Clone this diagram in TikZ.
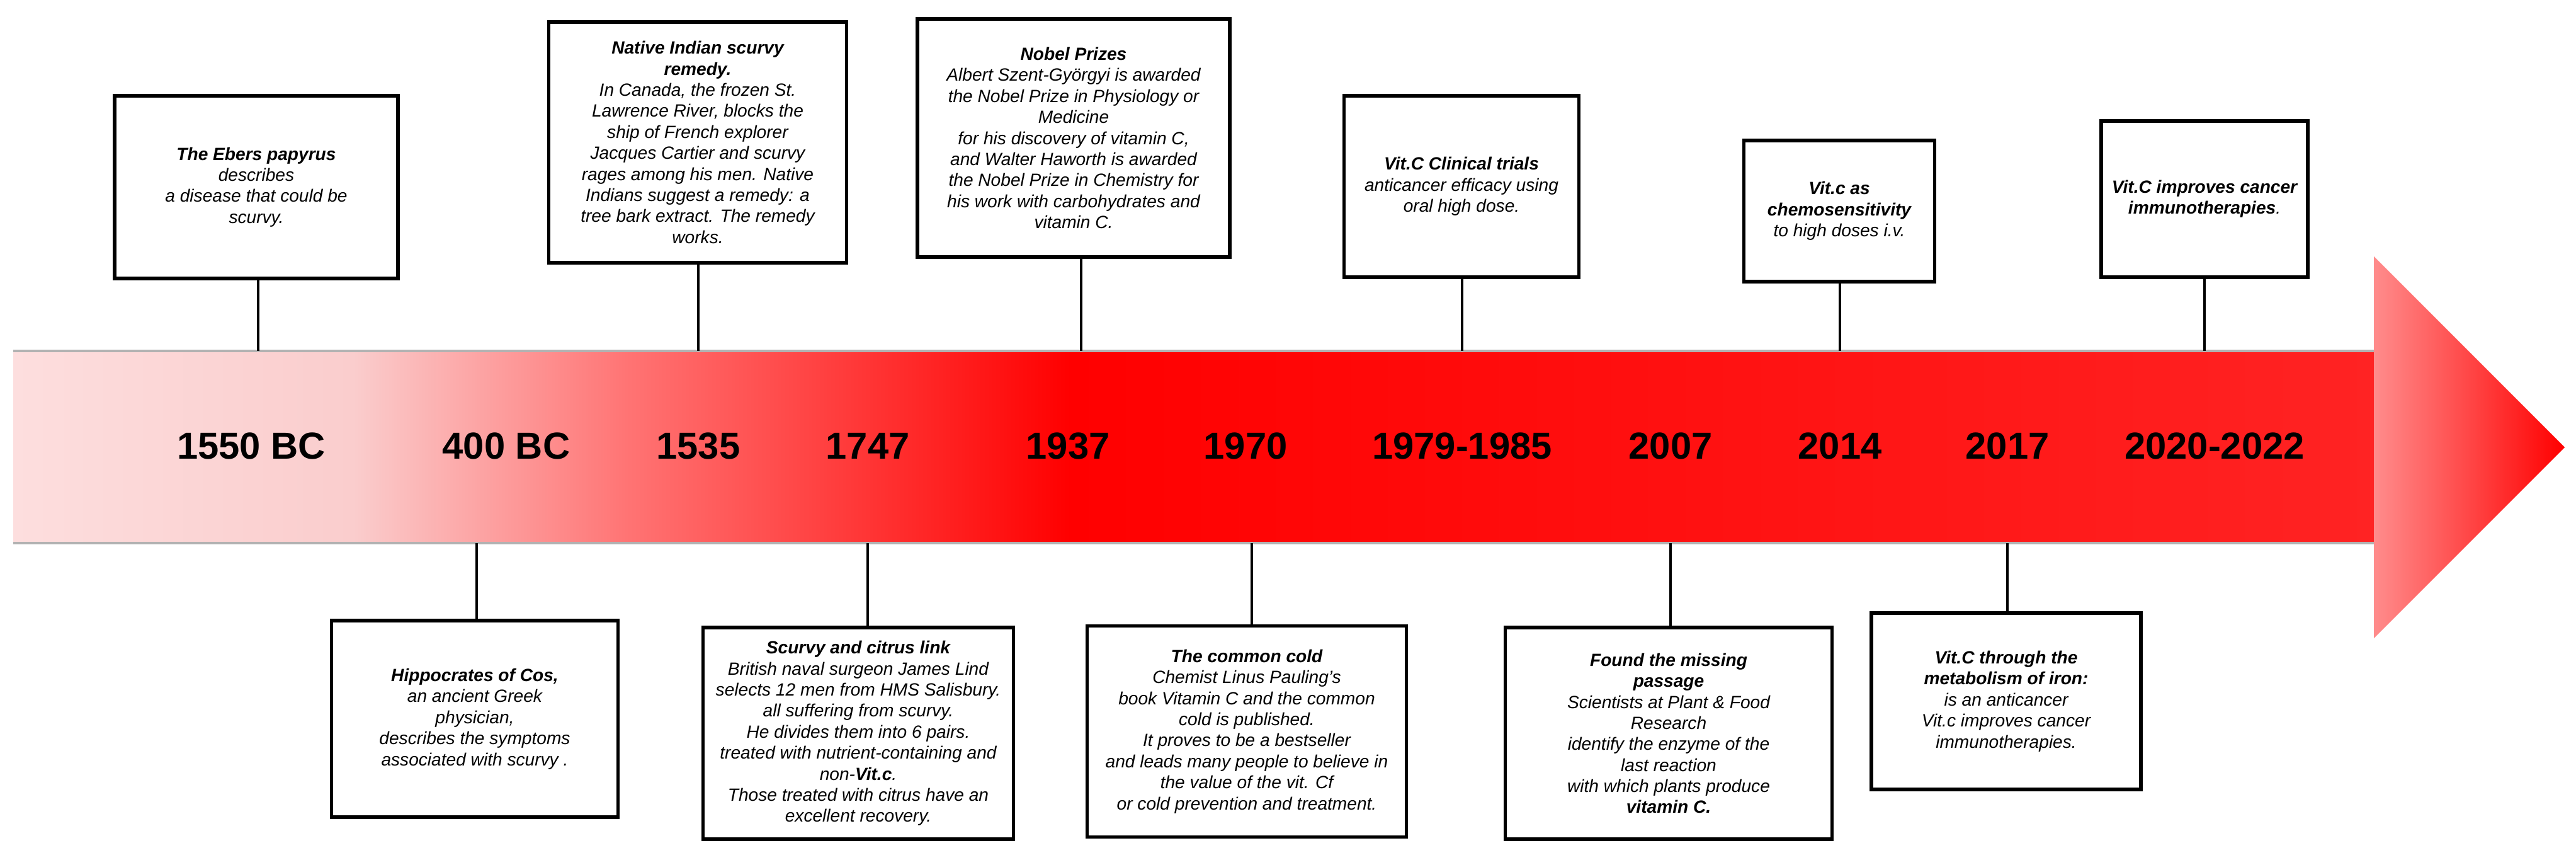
\documentclass[tikz,border=0pt]{standalone}
\usepackage{fontspec}
\setmainfont{Liberation Sans}
\definecolor{pinkA}{RGB}{253,222,222}
\definecolor{pinkB}{RGB}{250,205,205}
\definecolor{pinkC}{RGB}{255,115,115}
\definecolor{redA}{RGB}{255,0,0}
\definecolor{redB}{RGB}{255,35,35}
\definecolor{headL}{RGB}{255,140,140}
\tikzset{
  evbox/.style={draw=black, line width=1.5pt, fill=white, align=center,
    font=\fontsize{8}{9.5}\selectfont\itshape, inner sep=0pt},
  yearlbl/.style={font=\fontsize{17}{20}\selectfont\bfseries, inner sep=0pt},
  stemline/.style={line width=1pt, black}
}
\begin{document}
\begin{tikzpicture}
\useasboundingbox (0,0) rectangle (40.91,-13.64);
\fill[white] (0,0) rectangle (40.91,-13.64);
% shaft
\shade[left color=pinkA, right color=pinkB] (0.21,-5.57) rectangle (5.6,-8.62);
\shade[left color=pinkB, right color=pinkC] (5.6,-5.57) rectangle (10.0,-8.62);
\shade[left color=pinkC, right color=redA] (10.0,-5.57) rectangle (17.0,-8.62);
\shade[left color=redA, right color=redB] (17.0,-5.57) rectangle (37.72,-8.62);
\draw[gray!60, line width=1.2pt] (0.21,-5.57) -- (37.72,-5.57);
\draw[gray!60, line width=1.2pt] (0.21,-8.62) -- (37.72,-8.62);
% head
\shade[left color=headL, right color=redA] (37.70,-4.07) -- (40.73,-7.10) -- (37.70,-10.13) -- cycle;
% shaft connection points
\coordinate (t1) at (4.10,-5.57);
\coordinate (t2) at (11.09,-5.57);
\coordinate (t3) at (17.17,-5.57);
\coordinate (t4) at (23.22,-5.57);
\coordinate (t5) at (29.22,-5.57);
\coordinate (t6) at (35.01,-5.57);
\coordinate (b1) at (7.57,-8.62);
\coordinate (b2) at (13.78,-8.62);
\coordinate (b3) at (19.88,-8.62);
\coordinate (b4) at (26.53,-8.62);
\coordinate (b5) at (31.88,-8.62);
% years
\node[yearlbl] (y1) at (3.99,-7.08) {1550 BC};
\node[yearlbl] (y2) at (8.04,-7.08) {400 BC};
\node[yearlbl] (y3) at (11.09,-7.08) {1535};
\node[yearlbl] (y4) at (13.78,-7.08) {1747};
\node[yearlbl] (y5) at (16.96,-7.08) {1937};
\node[yearlbl] (y6) at (19.78,-7.08) {1970};
\node[yearlbl] (y7) at (23.22,-7.08) {1979-1985};
\node[yearlbl] (y8) at (26.53,-7.08) {2007};
\node[yearlbl] (y9) at (29.22,-7.08) {2014};
\node[yearlbl] (y10) at (31.88,-7.08) {2017};
\node[yearlbl] (y11) at (35.17,-7.08) {2020-2022};
% top boxes
\node[evbox, minimum width=4.50cm, minimum height=2.90cm] (ebers) at (4.07,-2.97)
 {\textbf{The Ebers papyrus}\\describes\\a disease that could be\\scurvy.};
\node[evbox, minimum width=4.73cm, minimum height=3.82cm] (native) at (11.08,-2.26)
 {\textbf{Native Indian scurvy}\\\textbf{remedy.}\\In Canada, the frozen St.\\Lawrence River, blocks the\\ship of French explorer\\Jacques Cartier and scurvy\\rages among his men. Native\\Indians suggest a remedy: a\\tree bark extract. The remedy\\works.};
\node[evbox, minimum width=4.96cm, minimum height=3.78cm] (nobel) at (17.05,-2.19)
 {\textbf{Nobel Prizes}\\Albert Szent-Györgyi is awarded\\the Nobel Prize in Physiology or\\Medicine\\for his discovery of vitamin C,\\and Walter Haworth is awarded\\the Nobel Prize in Chemistry for\\his work with carbohydrates and\\vitamin C.};
\node[evbox, minimum width=3.73cm, minimum height=2.88cm] (clinical) at (23.21,-2.96)
 {\textbf{Vit.C Clinical trials}\\anticancer efficacy using\\oral high dose.};
\node[evbox, minimum width=3.03cm, minimum height=2.24cm] (chemo) at (29.21,-3.35)
 {\textbf{Vit.c as}\\\textbf{chemosensitivity}\\to high doses i.v.};
\node[evbox, minimum width=3.28cm, minimum height=2.48cm] (improves) at (35.01,-3.16)
 {\textbf{Vit.C improves cancer}\\\textbf{immunotherapies}.};
% bottom boxes
\node[evbox, minimum width=4.55cm, minimum height=3.12cm] (hippo) at (7.54,-11.41)
 {\textbf{Hippocrates of Cos,}\\an ancient Greek\\physician,\\describes the symptoms\\associated with scurvy .};
\node[evbox, minimum width=4.93cm, minimum height=3.36cm] (citrus) at (13.63,-11.64)
 {\textbf{Scurvy and citrus link}\\British naval surgeon James Lind\\selects 12 men from HMS Salisbury.\\all suffering from scurvy.\\He divides them into 6 pairs.\\treated with nutrient-containing and\\non-\textbf{Vit.c}.\\Those treated with citrus have an\\excellent recovery.};
\node[evbox, minimum width=5.07cm, minimum height=3.35cm] (cold) at (19.80,-11.61)
 {\textbf{The common cold}\\Chemist Linus Pauling's\\book Vitamin C and the common\\cold is published.\\It proves to be a bestseller\\and leads many people to believe in\\the value of the vit. Cf\\or cold prevention and treatment.};
\node[evbox, minimum width=5.19cm, minimum height=3.36cm] (found) at (26.50,-11.64)
 {\textbf{Found the missing}\\\textbf{passage}\\Scientists at Plant \& Food\\Research\\identify the enzyme of the\\last reaction\\with which plants produce\\\textbf{vitamin C.}};
\node[evbox, minimum width=4.28cm, minimum height=2.80cm] (iron) at (31.86,-11.13)
 {\textbf{Vit.C through the}\\\textbf{metabolism of iron:}\\is an anticancer\\Vit.c improves cancer\\immunotherapies.};
% stems
\draw[stemline] (t1 |- ebers.south) -- (t1);
\draw[stemline] (t2 |- native.south) -- (t2);
\draw[stemline] (t3 |- nobel.south) -- (t3);
\draw[stemline] (t4 |- clinical.south) -- (t4);
\draw[stemline] (t5 |- chemo.south) -- (t5);
\draw[stemline] (t6 |- improves.south) -- (t6);
\draw[stemline] (b1) -- (b1 |- hippo.north);
\draw[stemline] (b2) -- (b2 |- citrus.north);
\draw[stemline] (b3) -- (b3 |- cold.north);
\draw[stemline] (b4) -- (b4 |- found.north);
\draw[stemline] (b5) -- (b5 |- iron.north);
\end{tikzpicture}
\end{document}
